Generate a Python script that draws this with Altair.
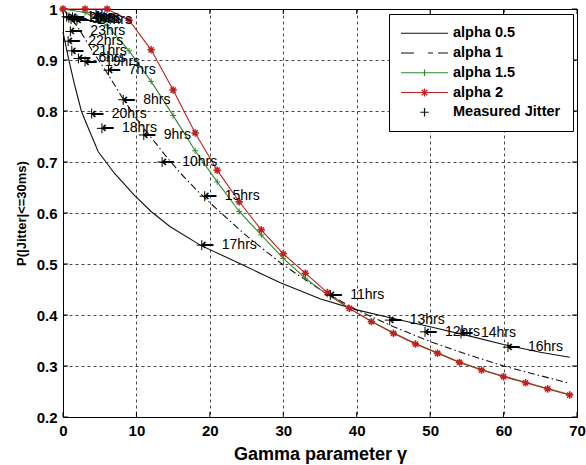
import altair as alt
import pandas as pd

FONT = "Liberation Sans, Arial, DejaVu Sans, sans-serif"

# ---- curves ----
a05_x = [0, 0.7, 1.6, 2.5, 3.2, 4.8, 7, 9.7, 12, 14.6, 18.7, 24.5, 29.6, 35, 40, 45, 50, 55, 60, 65, 69]
a05_y = [0.955, 0.906, 0.85, 0.80, 0.775, 0.72, 0.678, 0.635, 0.603, 0.573, 0.537, 0.498, 0.463, 0.432,
         0.41, 0.393, 0.377, 0.36, 0.342, 0.327, 0.317]

a1_x = [0, 2, 4, 6, 8, 10, 12, 14, 16, 18, 20, 25, 30, 35, 40, 45, 50, 55, 60, 65, 69]
a1_y = [1.0, 0.965, 0.918, 0.875, 0.828, 0.785, 0.748, 0.712, 0.678, 0.648, 0.62, 0.555, 0.498, 0.45,
        0.41, 0.377, 0.348, 0.323, 0.30, 0.281, 0.266]

step_x = [0, 3, 6, 9, 12, 15, 18, 21, 24, 27, 30, 33, 36, 39, 42, 45, 48, 51, 54, 57, 60, 63, 66, 69]
a15_y = [1.0, 0.993, 0.968, 0.918, 0.858, 0.791, 0.722, 0.661, 0.603, 0.557, 0.511, 0.472, 0.44, 0.413,
         0.388, 0.365, 0.344, 0.326, 0.308, 0.293, 0.28, 0.268, 0.256, 0.244]
a2_y = [1.0, 1.0, 1.0, 0.978, 0.92, 0.841, 0.757, 0.684, 0.622, 0.567, 0.52, 0.482, 0.444, 0.413,
        0.387, 0.364, 0.343, 0.325, 0.307, 0.292, 0.279, 0.267, 0.255, 0.243]

# ---- measured jitter ----
meas_lbl = ["1hrs", "2hrs", "3hrs", "4hrs", "5hrs", "24hrs", "6hrs", "19hrs", "7hrs", "8hrs", "9hrs",
            "10hrs", "11hrs", "12hrs", "13hrs", "14hrs", "15hrs", "16hrs", "17hrs", "18hrs", "20hrs",
            "21hrs", "22hrs", "23hrs"]
meas_x = [0.5, 0.8, 1.1, 1.3, 1.6, 1.9, 2.1, 3.0, 6.2, 8.2, 11.0, 13.5, 36.4, 49.3, 44.5, 54.2, 19.3,
          60.6, 18.9, 5.3, 3.9, 1.2, 0.7, 1.0]
meas_y = [0.985, 0.983, 0.980, 0.984, 0.981, 0.979, 0.903, 0.897, 0.880, 0.822, 0.753, 0.700, 0.439,
          0.367, 0.390, 0.364, 0.633, 0.337, 0.537, 0.766, 0.795, 0.918, 0.937, 0.956]

series_names = ["alpha 0.5", "alpha 1", "alpha 1.5", "alpha 2", "Measured Jitter"]
series_colors = ["#111111", "#111111", "#2f8a2f", "#c41e1e", "#111111"]

x_ticks = [0, 10, 20, 30, 40, 50, 60, 70]
y_ticks = [0.2, 0.3, 0.4, 0.5, 0.6, 0.7, 0.8, 0.9, 1.0]

# legend symbols (line sample + marker), drawn shifted right of the symbol anchor
legend_paths = [
    "M-1.21,0L6.63,0",
    "M-1.21,0L0.96,0M3.29,0L4.13,0M4.96,0L6.63,0",
    "M-1.21,0L6.63,0M2.71,-0.55L2.71,0.55",
    "M-1.21,0L6.63,0M2.71,-0.65L2.71,0.65M2.25,-0.46L3.17,0.46M2.25,0.46L3.17,-0.46",
    "M2.01,0L3.41,0M2.71,-0.7L2.71,0.7",
]
PLUS = "M-1,0L1,0M0,-1L0,1"
STAR = "M-1,0L1,0M0,-1L0,1M-0.7,-0.7L0.7,0.7M-0.7,0.7L0.7,-0.7"

rows = []
for xs, ys, name in [(a05_x, a05_y, "alpha 0.5"), (a1_x, a1_y, "alpha 1"),
                     (step_x, a15_y, "alpha 1.5"), (step_x, a2_y, "alpha 2")]:
    for a, b in zip(xs, ys):
        rows.append({"x": a, "y": b, "series": name})
curves = pd.DataFrame(rows)
meas = pd.DataFrame({"x": meas_x, "y": meas_y, "label": meas_lbl, "series": "Measured Jitter"})
alldf = pd.concat([curves, meas[["x", "y", "series"]]], ignore_index=True)

xscale = alt.Scale(domain=[0, 70], nice=False, zero=False)
yscale = alt.Scale(domain=[0.2, 1.0], nice=False, zero=False)
xaxis = alt.Axis(values=x_ticks, title="Gamma parameter \u03b3", grid=True, gridColor="black",
                 gridDash=[3, 3], gridWidth=0.8, gridOpacity=0.9, ticks=False, domain=False,
                 labelFont=FONT, labelFontSize=15, labelFontWeight="bold", labelColor="black",
                 labelPadding=6, labelFlush=False, labelOverlap=False,
                 titleFont=FONT, titleFontSize=18, titleFontWeight="bold", titleColor="black",
                 titleY=42, titleBaseline="alphabetic")
yaxis = alt.Axis(values=y_ticks, title="P(|Jitter|<=30ms)", grid=True, gridColor="black",
                 gridDash=[3, 3], gridWidth=0.8, gridOpacity=0.9, ticks=False, domain=False,
                 labelExpr="datum.value == 1 ? '1' : format(datum.value, '.1f')",
                 labelFont=FONT, labelFontSize=15, labelFontWeight="bold", labelColor="black",
                 labelPadding=6, labelFlush=False, labelOverlap=False,
                 titleFont=FONT, titleFontSize=13, titleFontWeight="bold", titleColor="black",
                 titleX=-42, titleBaseline="middle")
X = alt.X("x:Q", scale=xscale, axis=xaxis)
Y = alt.Y("y:Q", scale=yscale, axis=yaxis)

base = alt.Chart(curves)


def line(name, color, dash=None, width=1.1):
    kw = dict(color=color, strokeWidth=width)
    if dash:
        kw["strokeDash"] = dash
    return base.transform_filter(alt.datum.series == name).mark_line(**kw).encode(x=X, y=Y)


l05 = line("alpha 0.5", series_colors[0])
l1 = line("alpha 1", series_colors[1], dash=[7, 3, 1.5, 3])
l15 = line("alpha 1.5", series_colors[2])
l2 = line("alpha 2", series_colors[3])

p15 = base.transform_filter(alt.datum.series == "alpha 1.5").mark_point(
    shape=PLUS, size=36, color=series_colors[2], filled=False, strokeWidth=1, opacity=1
).encode(x=X, y=Y)
p2 = base.transform_filter(alt.datum.series == "alpha 2").mark_point(
    shape=STAR, size=56, color=series_colors[3], filled=False, strokeWidth=1.5, opacity=1
).encode(x=X, y=Y)

mpts = alt.Chart(meas).mark_point(shape=PLUS, size=100, color="black", filled=False,
                                  strokeWidth=1, opacity=1).encode(x=X, y=Y)
marrow = alt.Chart(meas).mark_text(align="left", baseline="middle", font="DejaVu Sans",
                                   fontSize=16, fontWeight="bold", color="black", dx=-1
                                   ).encode(x=X, y=Y, text=alt.value("\u2190"))
mtxt = alt.Chart(meas).mark_text(align="left", baseline="middle", font=FONT, fontSize=14,
                                 color="black", dx=20).encode(x=X, y=Y, text="label:N")

# inside ticks (MATLAB style box)
xt = pd.DataFrame({"x": x_ticks})
yt = pd.DataFrame({"y": y_ticks})
tk = dict(color="black", strokeWidth=1)
t_bot = alt.Chart(xt).mark_rule(**tk).encode(x=X, y=alt.value(408), y2=alt.value(403))
t_top = alt.Chart(xt).mark_rule(**tk).encode(x=X, y=alt.value(0), y2=alt.value(5))
t_left = alt.Chart(yt).mark_rule(**tk).encode(y=Y, x=alt.value(0), x2=alt.value(5))
t_right = alt.Chart(yt).mark_rule(**tk).encode(y=Y, x=alt.value(514), x2=alt.value(509))

leg = alt.Legend(title=None, orient="none", legendX=326, legendY=5, padding=12, fillColor="white",
                 strokeColor="black", cornerRadius=0, symbolSize=144, symbolStrokeWidth=1.2,
                 labelOffset=37.5, labelFont=FONT, labelFontSize=14.5,
                 labelFontWeight="bold", labelColor="black", rowPadding=4.75, symbolOpacity=1,
                 labelLimit=0)
legend_layer = alt.Chart(alldf).mark_point(opacity=0, filled=False).encode(
    x=X, y=Y,
    color=alt.Color("series:N", scale=alt.Scale(domain=series_names, range=series_colors), legend=leg),
    shape=alt.Shape("series:N", scale=alt.Scale(domain=series_names, range=legend_paths), legend=leg),
)

chart = alt.layer(t_bot, t_top, t_left, t_right, l05, l1, l15, l2, p15, p2, mpts, marrow, mtxt,
                  legend_layer).properties(
    width=514, height=408,
    autosize=alt.AutoSizeParams(type="none"),
    padding={"left": 63, "top": 9, "right": 9, "bottom": 48},
    background="white",
).configure_view(stroke="black", strokeWidth=1)

chart.save("out.html", embed_options={"renderer": "svg", "actions": False})
